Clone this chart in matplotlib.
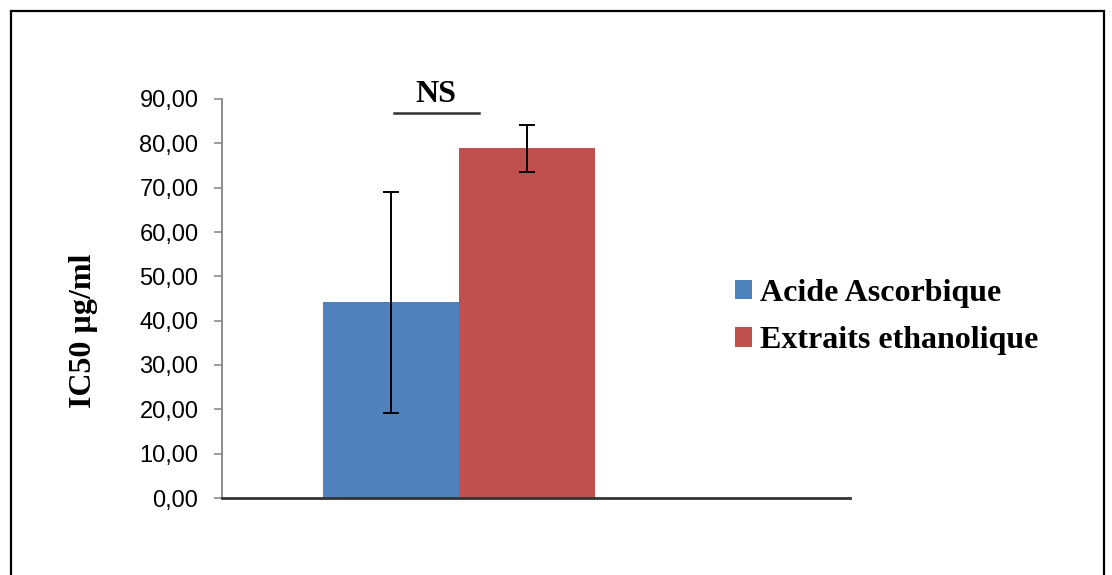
import matplotlib
matplotlib.use("Agg")
import matplotlib.pyplot as plt
from matplotlib.patches import Rectangle, Patch

# data
series = ["Acide Ascorbique", "Extraits ethanolique"]
ic50 = [44.1, 78.9]
err = [24.9, 5.3]
colors = ["#4F81BD", "#C0504D"]
yticks = [0, 10, 20, 30, 40, 50, 60, 70, 80, 90]

fig = plt.figure(figsize=(11.12, 5.75), dpi=100)
W, H = 1112, 575

# outer chart frame (bottom edge falls outside the picture)
fig.patches.append(Rectangle((11 / W, -0.05), (1104 - 11) / W, 1.05 - 11 / H,
                             transform=fig.transFigure, fill=False,
                             edgecolor="black", linewidth=1.6))

ax = fig.add_axes([222 / W, 77 / H, (850 - 222) / W, 399 / H])

xpos = [0, 1]
bars = ax.bar(xpos, ic50, width=1.0, color=colors, zorder=2)
ax.errorbar(xpos, ic50, yerr=err, fmt="none", ecolor="black",
            elinewidth=1.4, capsize=6, capthick=1.4, zorder=3)

ax.set_ylim(0, 90)
ax.set_xlim(-1.243, 3.375)
ax.set_yticks(yticks)
ax.set_yticklabels([f"{v:.2f}".replace(".", ",") for v in yticks],
                   fontfamily="Liberation Sans", fontsize=17)
ax.set_xticks([])

for s in ["top", "right"]:
    ax.spines[s].set_visible(False)
ax.spines["left"].set_color("#8c8c8c")
ax.spines["left"].set_linewidth(1.4)
ax.spines["bottom"].set_color("#333333")
ax.spines["bottom"].set_linewidth(2)
ax.tick_params(axis="y", length=6, width=1.2, color="#8c8c8c", pad=11)

fig.text(84 / W, 1 - 331 / H, "IC50 µg/ml", rotation=90, ha="center",
         va="center", fontfamily="Liberation Serif", fontweight="bold",
         fontsize=23)

# significance marker
ax.plot([0.02, 0.65], [86.8, 86.8], color="#333333", linewidth=1.8,
        clip_on=False, zorder=4)
ax.text(0.33, 89.4, "NS", ha="center", va="baseline",
        fontfamily="Liberation Serif", fontweight="bold", fontsize=23,
        clip_on=False)

handles = [Patch(facecolor=c, label=l) for c, l in zip(colors, series)]
fig.legend(handles=handles, loc="center left",
           bbox_to_anchor=(722 / W, 1 - 317 / H), frameon=False,
           prop={"family": "Liberation Serif", "weight": "bold", "size": 23},
           handlelength=0.55, handleheight=0.55, handletextpad=0.25,
           labelspacing=0.58, borderaxespad=0)

fig.savefig("out.png", dpi=100)
